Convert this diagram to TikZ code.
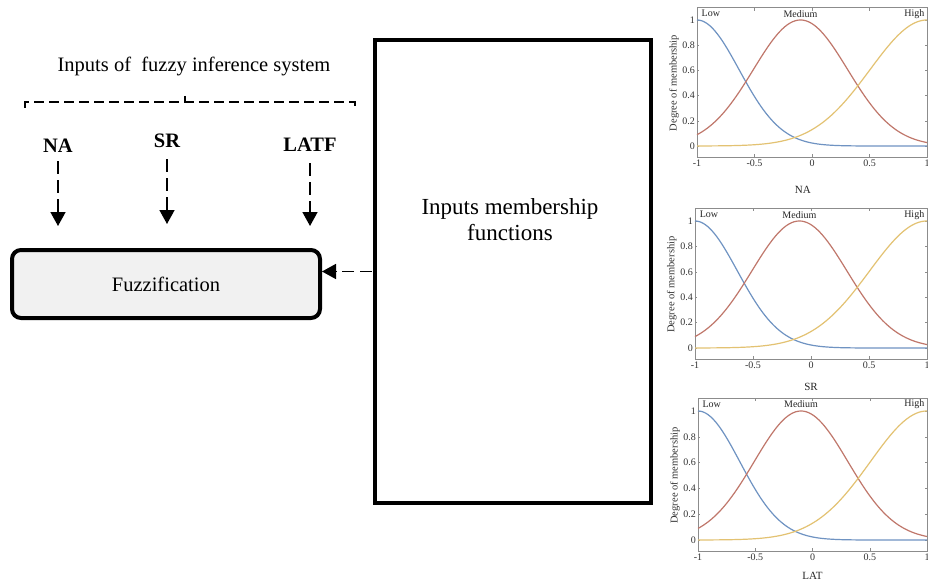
\documentclass[tikz,border=0pt]{standalone}
\usepackage{fontspec}
\setmainfont{Liberation Serif}
\usetikzlibrary{arrows.meta}
\definecolor{lowc}{HTML}{6F93C2}
\definecolor{medc}{HTML}{C0776B}
\definecolor{highc}{HTML}{E3C272}
\definecolor{fuzzfill}{HTML}{F1F1F1}
\tikzset{
  mainlab/.style={font=\rmfamily\fontsize{20.5}{23}\selectfont, inner sep=0pt, anchor=base},
  inlab/.style={font=\rmfamily\fontsize{20.5}{23}\selectfont\bfseries, inner sep=3pt, anchor=base},
  fuzzbox/.style={draw=black, line width=4pt, rounded corners=9pt, fill=fuzzfill,
    minimum width=308pt, minimum height=68pt, inner sep=0pt, font=\rmfamily\fontsize{20.5}{23}\selectfont},
  bigbox/.style={draw=black, line width=4pt, minimum width=276pt, minimum height=463pt, inner sep=0pt},
  dasharr/.style={line width=1.6pt, dash pattern=on 13pt off 6pt,
    -{Triangle[length=14pt,width=15pt]}},
  bracedash/.style={line width=1.4pt, dash pattern=on 10pt off 5pt},
  axisc/.style={draw=black!45, line width=0.5pt},
  ticklab/.style={font=\fontsize{10}{11}\selectfont, text=black!80, inner sep=2pt},
  curvelab/.style={font=\fontsize{10}{11}\selectfont, text=black!85, inner sep=0pt},
  curve/.style={line width=1.2pt}
}
\newcommand{\mfplot}[7]{%
\begin{scope}[shift={(#1,#2)}, x=#3pt, y=#4pt]
  \draw[axisc] (-1,-0.09) rectangle (1,1.1);
  \foreach \tk in {-1,-0.5,0,0.5,1} {
    \draw[axisc] (\tk,-0.09) -- ++(0,0.025);
    \draw[axisc] (\tk,1.1) -- ++(0,-0.025);
    \node[ticklab, below] at (\tk,-0.09) {\tk};
  }
  \foreach \tk in {0,0.2,0.4,0.6,0.8,1} {
    \draw[axisc] (-1,\tk) -- ++(0.02,0);
    \draw[axisc] (1,\tk) -- ++(-0.02,0);
    \node[ticklab, left] at (-1,\tk) {\tk};
  }
  \draw[curve, lowc] plot[domain=-1:1, samples=90, smooth] (\x,{exp(-((\x+1)^2)/0.267)});
  \draw[curve, medc] plot[domain=-1:1, samples=90, smooth] (\x,{exp(-((\x+0.1)^2)/0.336)});
  \draw[curve, highc] plot[domain=-1:1, samples=90, smooth] (\x,{exp(-((\x-1)^2)/0.49)});
  \node[curvelab] at (-0.88,1.05) {Low};
  \node[curvelab] at (-0.1,1.05) {Medium};
  \node[curvelab] at (0.89,1.05) {High};
  \node[font=\fontsize{10.5}{11}\selectfont, text=black!80, rotate=90] at (-1.2,0.5) {Degree of membership};
  \node[font=\fontsize{11}{12}\selectfont, text=black!85] at (#6,#7) {#5};
\end{scope}}
\begin{document}
\begin{tikzpicture}[x=1pt,y=-1pt]
\useasboundingbox[fill=white] (0,0) rectangle (928,588);

% title and brace
\node[mainlab] (title) at (194,72) {Inputs of\ \ fuzzy inference system};
\coordinate (bl) at (25,108);
\coordinate (br) at (355,108);
\coordinate (bm) at (185,96);
\draw[bracedash] (bl) -- (bl |- 0,102) -- (br |- 0,102) -- (br);
\draw[line width=1.4pt] (bm) -- (bm |- 0,102);

% inputs
\node[inlab] (na) at (58,153) {NA};
\node[inlab] (sr) at (167,148) {SR};
\node[inlab] (latf) at (310,152) {LATF};

% boxes
\node[fuzzbox] (fz) at (166,284) {Fuzzification};
\node[bigbox] (imf) at (513,271.5) {};
\node[mainlab, font=\rmfamily\fontsize{23}{25}\selectfont, align=center] (imft) at (510,240) {Inputs membership\\functions};

% arrows
\draw[dasharr, shorten <=5pt, shorten >=22pt] (na) -- (na |- fz.north);
\draw[dasharr, shorten <=8pt, shorten >=24pt] (sr) -- (sr |- fz.north);
\draw[dasharr, shorten <=8pt, shorten >=22pt] (latf) -- (latf |- fz.north);
\draw[dasharr, shorten <=1pt, dash pattern=on 12pt off 6pt] (imf.west) -- (fz.east |- imf.west);

% membership function plots
\mfplot{812}{146}{115}{126}{NA}{-0.08}{-0.35}
\mfplot{811}{348}{116}{127}{SR}{0}{-0.31}
\mfplot{812.5}{540}{114.5}{129}{LAT}{0}{-0.28}
\end{tikzpicture}
\end{document}
